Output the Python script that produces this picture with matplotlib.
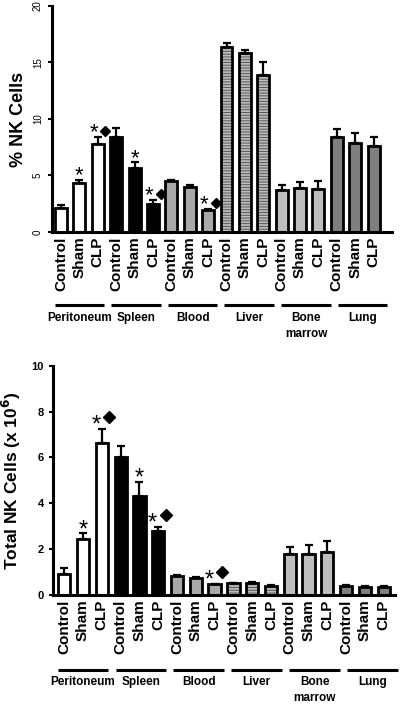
import numpy as np
import matplotlib.pyplot as plt
from matplotlib import transforms

conditions = ['Control', 'Sham', 'CLP']
tissues = ['Peritoneum', 'Spleen', 'Blood', 'Liver', 'Bone\nmarrow', 'Lung']

# % NK cells (mean, upper error)
pct_mean = [2.1, 4.35, 7.8, 8.4, 5.7, 2.5, 4.5, 4.0, 1.97,
            16.4, 15.8, 13.9, 3.7, 3.9, 3.8, 8.4, 7.9, 7.6]
pct_err = [0.25, 0.25, 0.6, 0.8, 0.45, 0.35, 0.12, 0.15, 0.08,
           0.3, 0.3, 1.1, 0.5, 0.5, 0.75, 0.7, 0.9, 0.8]

# total NK cells (x 10^6)
tot_mean = [0.92, 2.43, 6.61, 6.03, 4.33, 2.79, 0.83, 0.76, 0.47,
            0.51, 0.54, 0.41, 1.79, 1.79, 1.89, 0.39, 0.35, 0.35]
tot_err = [0.25, 0.26, 0.63, 0.45, 0.6, 0.19, 0.03, 0.03, 0.03,
           0.03, 0.03, 0.03, 0.3, 0.4, 0.45, 0.03, 0.03, 0.03]

# significance marks per bar: '*' = vs control, 'D' = vs sham
sig = ['', '*', '*D', '', '*', '*D', '', '', '*D',
       '', '', '', '', '', '', '', '', '']

tissue_colors = ['white', 'black', '#a9a9a9', '#bcbcbc', '#bebebe', '#7f7f7f']
tissue_hatch = [None, None, None, '------', None, None]

plt.rcParams['font.family'] = ['Liberation Sans', 'DejaVu Sans']
plt.rcParams['hatch.linewidth'] = 0.7

fig = plt.figure(figsize=(4, 7.04), dpi=100)
ax1 = fig.add_axes([0.13, 0.6705, 0.85, 0.321])
ax2 = fig.add_axes([0.1325, 0.1548, 0.855, 0.3257])


def draw_panel(ax, means, errs, ymax, xlim, star_fs, star_dy, dia_ms, dia_dy, dx):
    n = len(means)
    x = np.arange(n)
    fc = [tissue_colors[i // 3] for i in range(n)]
    hatches = [tissue_hatch[i // 3] for i in range(n)]
    ax.errorbar(x, means, yerr=[np.zeros(n), errs], fmt='none', ecolor='black',
                elinewidth=1.6, capsize=3.2, capthick=1.6, zorder=1)
    bars = ax.bar(x, means, width=0.65, color=fc, edgecolor='#555555', linewidth=0, zorder=2)
    for b, h in zip(bars, hatches):
        if h:
            b.set_hatch(h)
    ax.bar(x, means, width=0.65, fill=False, edgecolor='black', linewidth=2.0, zorder=3)

    for i in range(n):
        s = sig[i]
        if not s:
            continue
        top = means[i] + errs[i]
        sx = -dx[0] if 'D' in s else 0
        ax.annotate('*', xy=(i, top), xytext=(sx, star_dy), textcoords='offset points',
                    ha='center', va='baseline', fontsize=star_fs)
        if 'D' in s:
            tr = transforms.offset_copy(ax.transData, fig=fig, x=dx[1], y=dia_dy,
                                        units='points')
            ax.plot([i], [top], marker='D', ms=dia_ms, color='black', transform=tr,
                    clip_on=False, linestyle='none')

    ax.set_xlim(*xlim)
    ax.set_ylim(0, ymax)
    ax.set_xticks(x)
    ax.set_xticklabels(conditions * 6, rotation=90, fontsize=11, fontweight='bold',
                       va='top', ha='center')
    ax.tick_params(axis='x', length=0, pad=3)
    ax.tick_params(axis='y', width=1.5, length=3)
    for side in ['top', 'right']:
        ax.spines[side].set_visible(False)
    for side in ['left', 'bottom']:
        ax.spines[side].set_linewidth(2.2)

    trans = transforms.blended_transform_factory(ax.transData, ax.transAxes)
    for g, name in enumerate(tissues):
        c = 3 * g + 1 + 0.08 * g
        ax.plot([c - 1.35, c + 1.35], [-0.325, -0.325], color='black', lw=2.2,
                transform=trans, clip_on=False, solid_capstyle='butt')
        ax.text(c, -0.352, name, transform=trans, ha='center', va='top',
                fontsize=8.5, fontweight='bold', linespacing=1.45)


draw_panel(ax1, pct_mean, pct_err, 20, (-0.49, 18.0), 16, -1, 5, 4.5, (2.8, 5.5))
ax1.set_yticks([0, 5, 10, 15, 20])
ax1.tick_params(axis='y', labelrotation=90, labelsize=7)
for lab in ax1.get_yticklabels():
    lab.set_va('center')
ax1.set_ylabel('% NK Cells', fontsize=13, fontweight='bold', labelpad=4)

draw_panel(ax2, tot_mean, tot_err, 10, (-0.6, 17.6), 17, -2, 6.5, 8.5, (4.2, 5.5))
ax2.set_yticks([0, 2, 4, 6, 8, 10])
ax2.tick_params(axis='y', labelsize=8)
for lab in ax2.get_yticklabels():
    lab.set_fontweight('bold')
ax2.set_ylabel('Total NK Cells (x 10$^\\mathbf{6}$)', fontsize=12.5, fontweight='bold',
               labelpad=6)

fig.savefig('out.png', dpi=100)
